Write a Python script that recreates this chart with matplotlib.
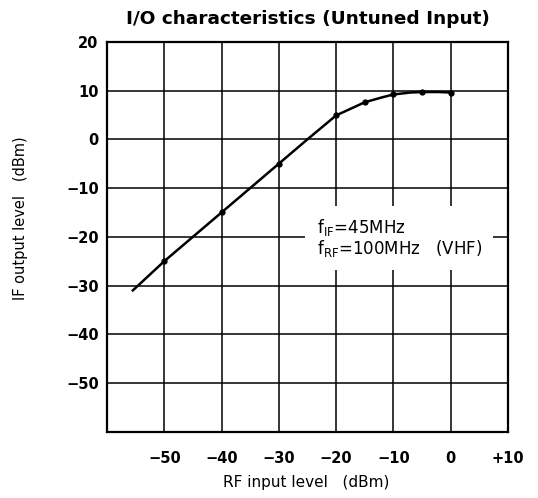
import matplotlib
matplotlib.use('Agg')
import matplotlib.pyplot as plt

plt.rcParams['font.family'] = ['DejaVu Sans']
plt.rcParams['mathtext.fontset'] = 'dejavusans'

# curve
rf_in = [-55.5, -50, -40, -30, -25, -20, -15, -12, -10, -7, -5, -2, 0]
if_out = [-31, -25, -15, -5, 0, 4.9, 7.6, 8.6, 9.2, 9.6, 9.7, 9.7, 9.6]
# measured points (dots)
pt_x = [-50, -40, -30, -20, -15, -10, -5, 0]
pt_y = [-25, -15, -5, 4.9, 7.6, 9.2, 9.7, 9.6]

x_ticks = [-50, -40, -30, -20, -10, 0, 10]
x_labels = ['\u221250', '\u221240', '\u221230', '\u221220', '\u221210', '0', '+10']
y_ticks = [20, 10, 0, -10, -20, -30, -40, -50]
y_labels = ['20', '10', '0', '\u221210', '\u221220', '\u221230', '\u221240', '\u221250']

fig = plt.figure(figsize=(5.38, 4.98), dpi=100)
ax = fig.add_axes([0.199, 0.133, 0.745, 0.783])
ax.set_xlim(-60, 10)
ax.set_ylim(-60, 20)

for gx in range(-50, 10, 10):
    ax.axvline(gx, color='black', lw=1.1, zorder=1)
for gy in range(-50, 20, 10):
    ax.axhline(gy, color='black', lw=1.1, zorder=1)

ax.plot(rf_in, if_out, color='black', lw=1.8, zorder=3)
ax.plot(pt_x, pt_y, 'o', color='black', ms=3.5, zorder=4)

ax.set_xticks(x_ticks)
ax.set_xticklabels(x_labels, fontsize=10.5, fontweight='bold')
ax.set_yticks(y_ticks)
ax.set_yticklabels(y_labels, fontsize=10.5, fontweight='bold')
ax.tick_params(length=0)
ax.tick_params(axis='x', pad=14)
ax.tick_params(axis='y', pad=6)
for s in ax.spines.values():
    s.set_linewidth(1.6)

ax.set_title('I/O characteristics (Untuned Input)', fontsize=13.3, fontweight='bold', pad=13)
ax.set_xlabel('RF input level   (dBm)', fontsize=11, va='center')
ax.xaxis.set_label_coords(0.496, -0.13)
ax.set_ylabel('IF output level   (dBm)', fontsize=10.5, va='center')
ax.yaxis.set_label_coords(-0.217, 0.548)

ax.text(-23.4, -20.2, 'f$_{\\mathrm{IF}}$=45MHz\nf$_{\\mathrm{RF}}$=100MHz   (VHF)',
        fontsize=12, va='center', ha='left', linespacing=1.0, zorder=5,
        bbox=dict(facecolor='white', edgecolor='none', pad=8))

fig.savefig('out.png', dpi=100)
